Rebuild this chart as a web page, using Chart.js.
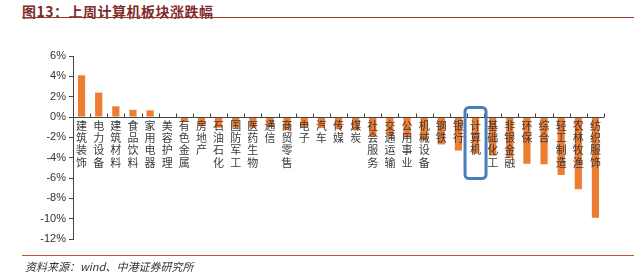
<!DOCTYPE html>
<html>
<head>
<meta charset="utf-8">
<script src="https://cdn.jsdelivr.net/npm/chart.js@4.4.0/dist/chart.umd.min.js"></script>
<style>
  body { margin: 0; background: #fff; width: 634px; height: 280px; position: relative; overflow: hidden; }
  #title { position: absolute; left: 22px; top: 1px; font: bold 14px "Noto Sans CJK SC", sans-serif; color: #7f2b2b; letter-spacing: 0.5px; }
  #topline { position: absolute; left: 22px; top: 17px; width: 612px; height: 1px; background: #8e3a2e; }
  #bottomline { position: absolute; left: 22px; top: 255px; width: 612px; height: 1px; background: #c8502f; }
  #source { position: absolute; left: 25px; top: 258px; font: italic 11px "Noto Sans CJK SC", sans-serif; color: #333; }
  #wrap { position: absolute; left: 0; top: 0; width: 634px; height: 280px; }
</style>
</head>
<body>
<div id="title">图13：上周计算机板块涨跌幅</div>
<div id="topline"></div>
<div id="wrap"><canvas id="chart"></canvas></div>
<div id="bottomline"></div>
<div id="source">资料来源：wind、中港证券研究所</div>
<script>
// Sector names, in the order they appear
const categories = [
  "建筑装饰", "电力设备", "建筑材料", "食品饮料", "家用电器", "美容护理",
  "有色金属", "房地产", "石油石化", "国防军工", "医药生物", "通信",
  "商贸零售", "电子", "汽车", "传媒", "煤炭", "社会服务", "交通运输",
  "公用事业", "机械设备", "钢铁", "银行", "计算机", "基础化工",
  "非银金融", "环保", "综合", "轻工制造", "农林牧渔", "纺织服饰"
];

// Weekly change, %
const weeklyChange = [
  4.1, 2.4, 1.05, 0.7, 0.65, 0.05,
  -0.5, -0.9, -1.05, -1.05, -1.05, -1.0,
  -1.3, -1.0, -1.1, -1.2, -1.3, -1.9, -1.9,
  -2.0, -2.3, -2.7, -3.3, -3.6, -3.8,
  -4.0, -4.6, -4.65, -5.7, -7.1, -9.9
];

const yMin = -12;
const yMax = 6;
const yStep = 2;
const highlight = "计算机";

// vertical category labels at the zero line (over the bars), small upward
// ticks on the x axis, and the blue box round the highlighted label
const decorations = {
  id: "decorations",
  afterDatasetsDraw(chart) {
    const ctx = chart.ctx;
    const x = chart.scales.x;
    const y = chart.scales.y;
    const zero = y.getPixelForValue(0);
    ctx.save();
    ctx.strokeStyle = "#444";
    ctx.lineWidth = 1;
    const zy = Math.round(zero) + 0.5;
    ctx.beginPath();
    ctx.moveTo(x.left, zy);
    ctx.lineTo(x.right, zy);
    ctx.stroke();
    for (let i = 1; i <= categories.length; i++) {
      const px = Math.round(x.getPixelForValue(i - 0.5)) + 0.5;
      ctx.beginPath();
      ctx.moveTo(px, zy);
      ctx.lineTo(px, zy - 4);
      ctx.stroke();
    }
    ctx.fillStyle = "#3a3a3a";
    ctx.font = '11px "Noto Sans CJK SC"';
    ctx.textAlign = "center";
    ctx.textBaseline = "top";
    categories.forEach((name, i) => {
      const cx = x.getPixelForValue(i);
      name.split("").forEach((ch, k) => {
        ctx.fillText(ch, cx, zero + 3 + k * 12.4);
      });
    });
    const idx = categories.indexOf(highlight);
    const cx = x.getPixelForValue(idx);
    ctx.strokeStyle = "#4a7ebb";
    ctx.lineWidth = 3;
    ctx.beginPath();
    ctx.roundRect(cx - 10.5, zero - 9.5, 21, 71, 4);
    ctx.stroke();
    ctx.restore();
  }
};

new Chart(document.getElementById("chart"), {
  type: "bar",
  data: {
    labels: categories,
    datasets: [{
      data: weeklyChange,
      backgroundColor: "#ed7d31",
      barPercentage: 0.42,
      categoryPercentage: 1
    }]
  },
  options: {
    responsive: true,
    maintainAspectRatio: false,
    animation: false,
    layout: { padding: { top: 56, bottom: 41, left: 0, right: 30 } },
    plugins: { legend: { display: false }, tooltip: { enabled: false } },
    scales: {
      x: {
        display: false
      },
      y: {
        min: yMin,
        max: yMax,
        afterFit(scale) { scale.width = 73; },
        grid: { drawOnChartArea: false, tickLength: 4, color: "#444" },
        border: { display: true, color: "#444", width: 1 },
        ticks: {
          stepSize: yStep,
          padding: 3,
          color: "#333",
          font: { family: "Liberation Sans", size: 11 },
          callback: v => v + "%"
        }
      }
    }
  },
  plugins: [decorations]
});
</script>
</body>
</html>
